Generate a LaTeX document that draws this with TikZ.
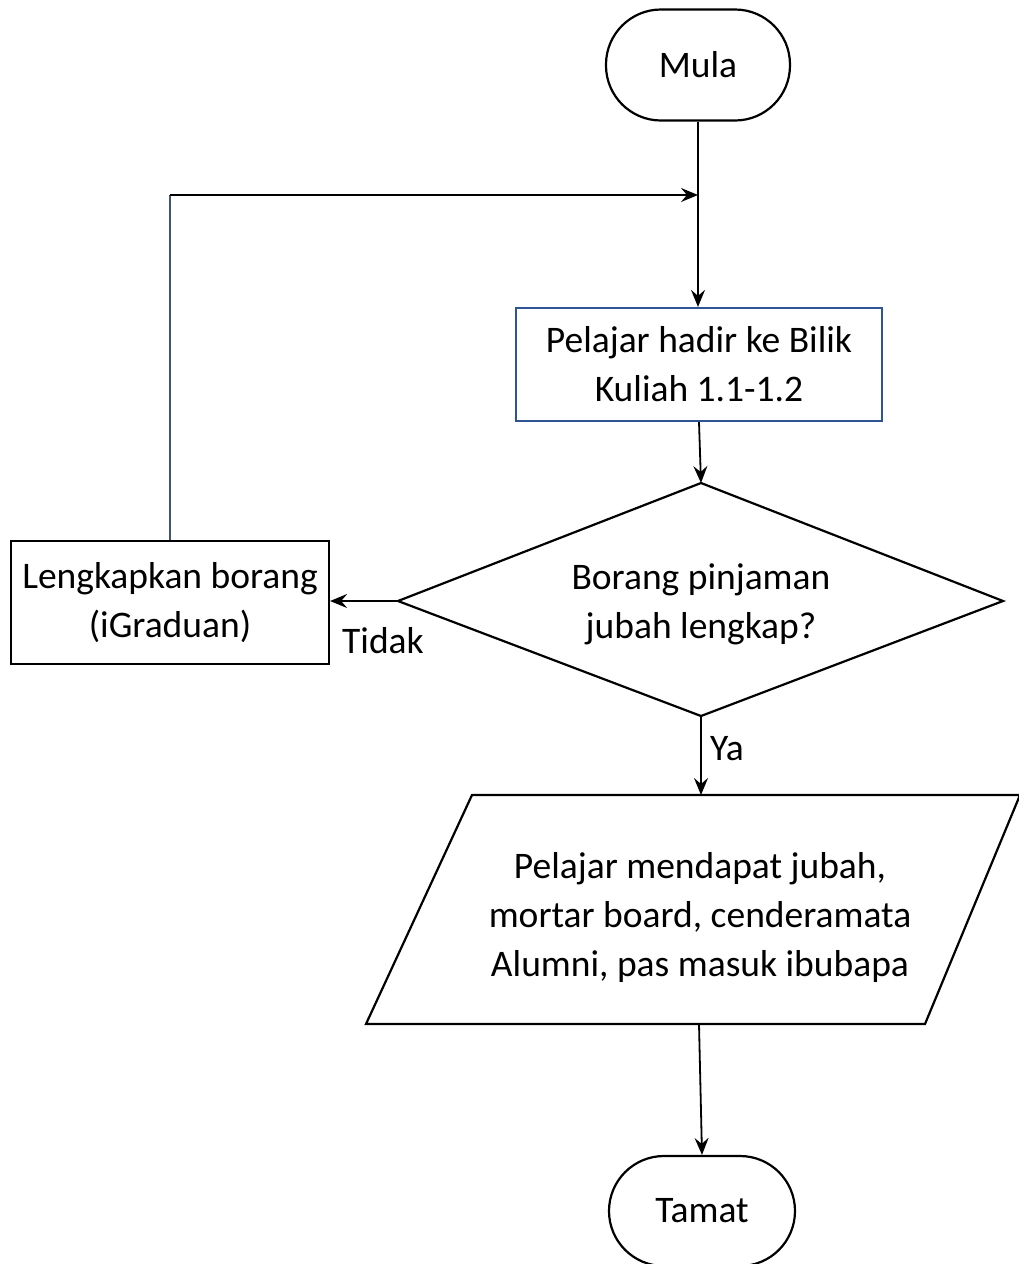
\documentclass[tikz,border=0pt]{standalone}
\usepackage{fontspec}
\setmainfont{Carlito}
\usetikzlibrary{arrows.meta}
\definecolor{boxblue}{RGB}{47,84,150}
\definecolor{loopgray}{RGB}{68,84,106}
\tikzset{
  every node/.style={font=\fontsize{37.5}{49}\selectfont, align=center},
  term/.style={draw, line width=2.2pt, rectangle, rounded corners=55pt, minimum width=184pt, minimum height=111pt, inner sep=0pt},
  procbox/.style={draw, line width=2.2pt, rectangle, inner sep=0pt},
  shapeline/.style={line width=2.2pt, line join=miter},
  arr/.style={line width=1.8pt, -{Stealth[length=17pt,width=14pt,inset=6pt]}},
  plain/.style={line width=1.8pt},
}
\begin{document}
\begin{tikzpicture}[x=1pt,y=-1pt]
\useasboundingbox (0,0) rectangle (1019,1264);
\fill[white] (0,0) rectangle (1019,1264);
\node[term] (mula) at (698,65) {Mula};
\node[procbox, draw=boxblue, minimum width=366pt, minimum height=113pt] (box1) at (699,364.5) {Pelajar hadir ke Bilik\\Kuliah 1.1-1.2};
% decision diamond
\coordinate (diaN) at (701,483);
\coordinate (diaS) at (701,716);
\coordinate (diaW) at (398,601);
\coordinate (diaE) at (1003,601);
\draw[shapeline] (diaN) -- (diaE) -- (diaS) -- (diaW) -- cycle;
\node (dia) at (701,604.5) {Borang pinjaman\\jubah lengkap?};
\node[procbox, minimum width=318pt, minimum height=123pt] (lk) at (170,602.5) {Lengkapkan borang\\(iGraduan)};
\coordinate (jn) at (698,195);
% parallelogram
\coordinate (parT) at (701,795);
\coordinate (parB) at (699,1024);
\draw[shapeline] (472,795) -- (1020,795) -- (925,1024) -- (366,1024) -- cycle;
\node (par) at (700,917) {Pelajar mendapat jubah,\\mortar board, cenderamata\\Alumni, pas masuk ibubapa};
\node[term, minimum width=186pt, minimum height=110pt] (tamat) at (702,1211) {Tamat};
\draw[arr] (mula.south) -- (mula.south |- box1.north);
\draw[plain, loopgray] (lk.north) -- (lk.north |- jn);
\draw[arr] (lk.north |- jn) -- (jn);
\draw[arr] (box1.south) -- (diaN);
\draw[arr] (diaW) -- (diaW -| lk.east);
\node (tidak) at (383,641) {Tidak};
\draw[arr] (diaS) -- (parT);
\node (ya) at (727,749) {Ya};
\draw[arr] (parB) -- (tamat.north);
\end{tikzpicture}
\end{document}
